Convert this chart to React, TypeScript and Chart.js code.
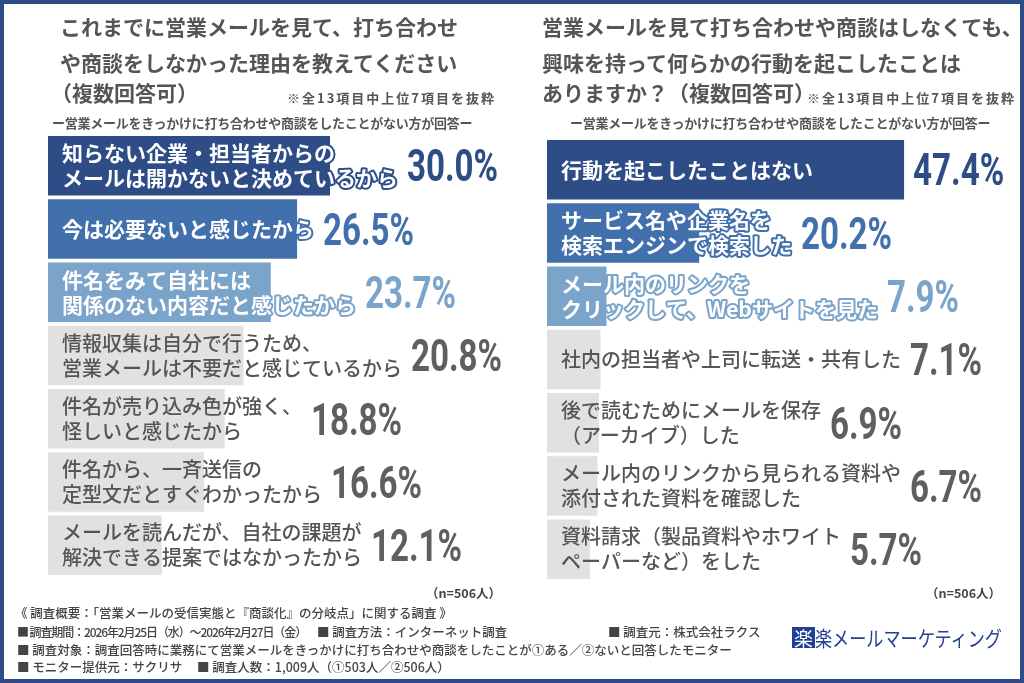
import React, { useEffect, useRef } from "react";
import { Chart, registerables } from "chart.js";
Chart.register(...registerables);

const leftLabels: string[][] = [
  ["知らない企業・担当者からの", "メールは開かないと決めているから"],
  ["今は必要ないと感じたから"],
  ["件名をみて自社には", "関係のない内容だと感じたから"],
  ["情報収集は自分で行うため、", "営業メールは不要だと感じているから"],
  ["件名が売り込み色が強く、", "怪しいと感じたから"],
  ["件名から、一斉送信の", "定型文だとすぐわかったから"],
  ["メールを読んだが、自社の課題が", "解決できる提案ではなかったから"],
];
const leftValues = [30.0, 26.5, 23.7, 20.8, 18.8, 16.6, 12.1];

const rightLabels: string[][] = [
  ["行動を起こしたことはない"],
  ["サービス名や企業名を", "検索エンジンで検索した"],
  ["メール内のリンクを", "クリックして、Webサイトを見た"],
  ["社内の担当者や上司に転送・共有した"],
  ["後で読むためにメールを保存", "（アーカイブ）した"],
  ["メール内のリンクから見られる資料や", "添付された資料を確認した"],
  ["資料請求（製品資料やホワイト", "ペーパーなど）をした"],
];
const rightValues = [47.4, 20.2, 7.9, 7.1, 6.9, 6.7, 5.7];

const barColors = ["#2e4d87", "#4270ad", "#7ba4ca", "#e1e1e1", "#e1e1e1", "#e1e1e1", "#e1e1e1"];
const valueColors = ["#2e4d87", "#4270ad", "#7ba4ca", "#5f5f5f", "#5f5f5f", "#5f5f5f", "#5f5f5f"];

const leftTitle = ["これまでに営業メールを見て、打ち合わせ", "や商談をしなかった理由を教えてください", "（複数回答可）"];
const rightTitle = ["営業メールを見て打ち合わせや商談はしなくても、", "興味を持って何らかの行動を起こしたことは", "ありますか？（複数回答可）"];
const noteText = "※全13項目中上位7項目を抜粋";
const subText = "ー営業メールをきっかけに打ち合わせや商談をしたことがない方が回答ー";
const nText = "（n=506人）";

const JP = "'Noto Sans CJK JP', 'Noto Sans', sans-serif";

const labelPlugin = {
  id: "barLabels",
  afterDatasetsDraw(chart: any) {
    const ctx = chart.ctx as CanvasRenderingContext2D;
    const meta = chart.getDatasetMeta(0);
    const labels: string[][] = chart.options.plugins.barLabels.labels;
    const values: number[] = chart.data.datasets[0].data;
    meta.data.forEach((bar: any, i: number) => {
      const { x, y, base } = bar.getProps(["x", "y", "base"], true);
      const colored = i < 3;
      const lines = labels[i];
      ctx.save();
      const fs = colored ? 21 : 20;
      ctx.font = `${colored ? 700 : 500} ${fs}px ${JP}`;
      ctx.textBaseline = "middle";
      ctx.textAlign = "left";
      const tx = base + 14;
      const lh = 25;
      let maxW = 0;
      lines.forEach((ln, k) => {
        const ly = y + (k - (lines.length - 1) / 2) * lh;
        if (colored) {
          ctx.lineWidth = 4;
          ctx.lineJoin = "round";
          ctx.strokeStyle = barColors[i];
          ctx.strokeText(ln, tx, ly);
          ctx.fillStyle = "#ffffff";
        } else {
          ctx.fillStyle = "#555555";
        }
        ctx.fillText(ln, tx, ly);
        maxW = Math.max(maxW, ctx.measureText(ln).width);
      });
      const vx = Math.max(x, tx + maxW) + 9;
      const vfs = 44;
      ctx.font = `700 ${vfs}px Roboto, 'DejaVu Sans Condensed', sans-serif`;
      const dw = ctx.measureText("0").width;
      const sx = 19 / dw;
      ctx.translate(vx, y + vfs * 0.36);
      ctx.scale(sx, 1);
      ctx.textBaseline = "alphabetic";
      ctx.fillStyle = valueColors[i];
      ctx.fillText(values[i].toFixed(1) + "%", 0, 0);
      ctx.restore();
    });
  },
};

function BarChart(props: {
  labels: string[][];
  values: number[];
  max: number;
  left: number;
  width: number;
  pad: { left: number; right: number; top: number; bottom: number };
}) {
  const ref = useRef<HTMLCanvasElement>(null);
  useEffect(() => {
    const chart = new Chart(ref.current!, {
      type: "bar",
      data: {
        labels: props.labels.map((l) => l.join("")),
        datasets: [
          {
            data: props.values,
            backgroundColor: barColors,
            borderWidth: 0,
            barPercentage: 0.94,
            categoryPercentage: 1,
          },
        ],
      },
      options: {
        indexAxis: "y",
        responsive: false,
        animation: false,
        layout: { padding: props.pad },
        scales: {
          x: { display: false, min: 0, max: props.max },
          y: { display: false },
        },
        plugins: {
          legend: { display: false },
          tooltip: { enabled: false },
          barLabels: { labels: props.labels },
        } as any,
      },
      plugins: [labelPlugin],
    } as any);
    return () => chart.destroy();
  }, []);
  return (
    <canvas
      ref={ref}
      width={props.width}
      height={683}
      style={{ position: "absolute", left: props.left, top: 0, width: props.width, height: 683 }}
    />
  );
}

const T = (p: {
  x: number;
  y: number;
  size: number;
  weight?: number;
  color?: string;
  ls?: number;
  children: React.ReactNode;
}) => (
  <div
    style={{
      position: "absolute",
      left: p.x,
      top: p.y - p.size / 2,
      fontSize: p.size,
      lineHeight: `${p.size}px`,
      fontWeight: p.weight ?? 700,
      color: p.color ?? "#555555",
      letterSpacing: p.ls ?? 0,
      whiteSpace: "nowrap",
      fontFamily: JP,
    }}
  >
    {p.children}
  </div>
);

export default function App() {
  const fc = "#444444";
  return (
    <div
      style={{
        position: "fixed",
        left: 0,
        top: 0,
        width: 1024,
        height: 683,
        background: "#ffffff",
        overflow: "hidden",
      }}
    >
      <BarChart labels={leftLabels} values={leftValues} max={50} left={0} width={520}
        pad={{ left: 48, right: 2, top: 134, bottom: 106 }} />
      <BarChart labels={rightLabels} values={rightValues} max={60} left={520} width={504}
        pad={{ left: 27, right: 25, top: 138, bottom: 102 }} />

      <T x={60} y={26} size={21}>{leftTitle[0]}</T>
      <T x={60} y={62} size={21}>{leftTitle[1]}</T>
      <T x={51} y={92} size={21}>{leftTitle[2]}</T>
      <T x={287} y={97} size={13} ls={2}>{noteText}</T>
      <T x={52} y={122} size={13} ls={-0.25}>{subText}</T>

      <T x={542} y={26} size={21}>{rightTitle[0]}</T>
      <T x={542} y={62} size={21}>{rightTitle[1]}</T>
      <T x={542} y={92} size={21}>{rightTitle[2]}</T>
      <T x={807} y={97} size={13} ls={2}>{noteText}</T>
      <T x={570} y={122} size={13} ls={-0.25}>{subText}</T>

      <T x={426} y={593} size={12.5} color={fc}>{nText}</T>
      <T x={926} y={593} size={12.5} color={fc}>{nText}</T>

      <T x={15} y={613} size={12.5} weight={500} color={fc}>《 調査概要：「営業メールの受信実態と『商談化』の分岐点」に関する調査 》</T>
      <T x={17} y={632} size={12} weight={500} color={fc} ls={-1.1}>■ 調査期間：2026年2月25日（水）～2026年2月27日（金）</T>
      <T x={317} y={632} size={12.5} weight={500} color={fc}>■ 調査方法：インターネット調査</T>
      <T x={608} y={632} size={12.5} weight={500} color={fc}>■ 調査元：株式会社ラクス</T>
      <T x={17} y={650} size={12.5} weight={500} color={fc}>■ 調査対象：調査回答時に業務にて営業メールをきっかけに打ち合わせや商談をしたことが①ある／②ないと回答したモニター</T>
      <T x={17} y={667} size={12.5} weight={500} color={fc}>■ モニター提供元：サクリサ</T>
      <T x={197} y={667} size={12.5} weight={500} color={fc}>■ 調査人数：1,009人（①503人／②506人）</T>

      <div
        style={{
          position: "absolute",
          left: 792,
          top: 627,
          width: 23,
          height: 21,
          background: "#1f3f94",
          color: "#ffffff",
          fontFamily: JP,
          fontSize: 19,
          lineHeight: "21px",
          textAlign: "center",
        }}
      >
        楽
      </div>
      <div
        style={{
          position: "absolute",
          left: 815,
          top: 626,
          fontFamily: JP,
          fontSize: 21,
          lineHeight: "22px",
          color: "#24408f",
          whiteSpace: "nowrap",
          transform: "scaleX(0.815)",
          transformOrigin: "left center",
        }}
      >
        楽メールマーケティング
      </div>

      <div
        style={{
          position: "absolute",
          left: 0,
          top: 0,
          width: 1024,
          height: 683,
          boxSizing: "border-box",
          border: "4px solid #2e4d87",
          pointerEvents: "none",
        }}
      />
    </div>
  );
}
